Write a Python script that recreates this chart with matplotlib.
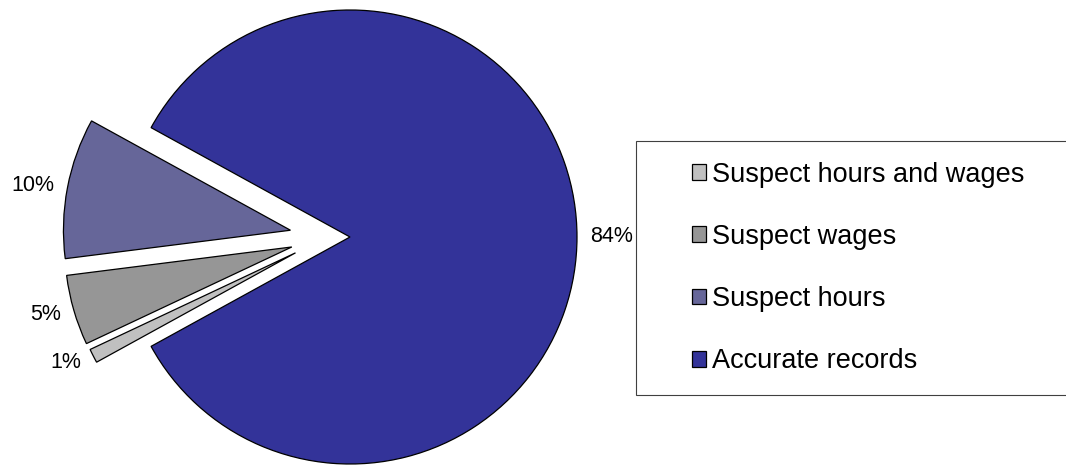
"""Pie chart of payroll record accuracy, recreated from an Excel-style figure."""

import matplotlib

matplotlib.use("Agg")
import matplotlib.pyplot as plt
import numpy as np
from matplotlib.patches import Rectangle

# data (pie order, counter-clockwise from the right-hand side)
categories = ["Accurate records", "Suspect hours", "Suspect wages", "Suspect hours and wages"]
shares = [84, 10, 5, 1]
colors = ["#333399", "#666699", "#969696", "#C0C0C0"]
pull = [0.0, 0.264, 0.26, 0.25]  # how far each slice is pulled out (in radii)

W, H = 1066, 465
DPI = 100
CX, CY, R = 350, 228, 227  # pie centre (pixels from left / bottom) and radius
LABEL_DIST = 1.06

plt.rcParams.update({"font.family": ["Liberation Sans", "DejaVu Sans"]})

fig = plt.figure(figsize=(W / DPI, H / DPI), dpi=DPI)
ax = fig.add_axes([0, 0, 1, 1])
ax.axis("off")

# big slice centred on the right, small slices pulled out to the left
gap = (sum(shares) - shares[0]) / sum(shares) * 360
start = 180 + gap / 2
wedges, texts = ax.pie(
    shares,
    labels=[f"{v}%" for v in shares],
    colors=colors,
    startangle=start,
    counterclock=True,
    radius=1.0,
    labeldistance=LABEL_DIST,
    wedgeprops={"edgecolor": "black", "linewidth": 0.9},
    textprops={"fontsize": 15.5, "color": "black"},
)

# Excel pulls exploded slices out along a direction squeezed towards 180 deg,
# so they fan out less than a purely radial explode would
for w, t, p in zip(wedges, texts, pull):
    if p == 0:
        continue
    mid_deg = ((w.theta1 + w.theta2) / 2) % 360
    mid = np.deg2rad(mid_deg)
    ang = np.pi + 0.6 * (mid - np.pi)
    cx, cy = p * np.cos(ang), p * np.sin(ang)
    w.set_center((cx, cy))
    t.set_position((cx + LABEL_DIST * np.cos(mid), cy + LABEL_DIST * np.sin(mid)))

ax.set_aspect("equal")
ax.set_xlim(-CX / R, (W - CX) / R)
ax.set_ylim(-CY / R, (H - CY) / R)

# legend frame, running off the right edge like the original
fig.patches.append(
    Rectangle(
        (636 / W, (H - 395) / H),
        0.5,
        254 / H,
        transform=fig.transFigure,
        facecolor="white",
        edgecolor="#404040",
        linewidth=0.8,
        zorder=0,
    )
)

order = [3, 2, 1, 0]
fig.legend(
    [wedges[i] for i in order],
    [categories[i] for i in order],
    loc="upper left",
    bbox_to_anchor=(678 / W, (H - 148) / H),
    frameon=False,
    fontsize=19.5,
    handlelength=0.52,
    handleheight=0.52,
    handletextpad=0.22,
    labelspacing=1.34,
    borderpad=0.0,
)

fig.savefig("out.png", dpi=DPI, facecolor="white")
